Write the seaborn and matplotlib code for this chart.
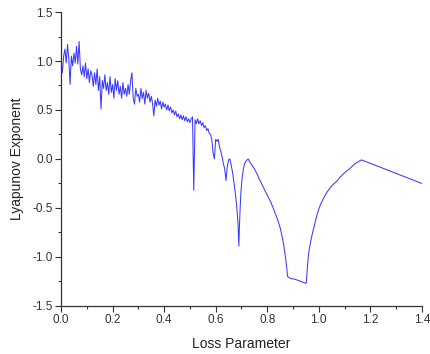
import numpy as np
import pandas as pd
import matplotlib
matplotlib.use("Agg")
import matplotlib.pyplot as plt
from matplotlib.ticker import MultipleLocator, FormatStrFormatter
import seaborn as sns

# ====== 数据：噪声段（等步长 0.005 采样）======
noisy_step = 0.005
noisy_y = [
    1.00, 0.88, 1.05, 1.12, 0.98, 1.17, 1.02, 0.76, 1.05, 0.95,
    1.08, 0.98, 1.15, 0.97, 1.20, 0.92, 0.86, 0.95, 0.84, 0.98,
    0.82, 0.92, 0.78, 0.90, 0.86, 0.74, 0.88, 0.76, 0.92, 0.70,
    0.84, 0.51, 0.80, 0.72, 0.86, 0.70, 0.78, 0.66, 0.84, 0.68,
    0.76, 0.62, 0.82, 0.70, 0.80, 0.66, 0.74, 0.62, 0.78, 0.66,
    0.72, 0.64, 0.76, 0.66, 0.80, 0.88, 0.62, 0.56, 0.72, 0.64,
    0.66, 0.58, 0.72, 0.62, 0.68, 0.56, 0.70, 0.62, 0.67, 0.58,
    0.64, 0.57, 0.44, 0.60, 0.54, 0.62, 0.55, 0.59, 0.51, 0.58,
    0.53, 0.56, 0.50, 0.55, 0.49, 0.53, 0.47, 0.50, 0.45, 0.49,
    0.43, 0.46, 0.41, 0.45, 0.40, 0.44, 0.39, 0.43, 0.38, 0.41,
    0.37, 0.41, 0.43, -0.32, 0.40, 0.36, 0.41, 0.36, 0.39, 0.34,
    0.37, 0.32, 0.34, 0.29, 0.31, 0.26, 0.25, 0.20, 0.06, 0.00,
    0.20, 0.18, 0.20, 0.12, 0.08, 0.02, -0.05, -0.10, -0.22, -0.08,
    -0.01, 0.00,
]

# ====== 数据：平滑段（不等距）======
smooth_x = [
    0.660, 0.665, 0.670, 0.675, 0.680, 0.684, 0.687, 0.690, 0.692, 0.695,
    0.698, 0.702, 0.707, 0.712, 0.718, 0.726, 0.735, 0.750, 0.760, 0.772,
    0.785, 0.800, 0.812, 0.823, 0.833, 0.843, 0.850, 0.856, 0.862, 0.867,
    0.871, 0.875, 0.879, 0.885, 0.890, 0.910, 0.930, 0.950, 0.952, 0.954,
    0.956, 0.959, 0.962, 0.966, 0.972, 0.978, 0.985, 0.991, 0.998, 1.006,
    1.015, 1.025, 1.037, 1.052, 1.069, 1.085, 1.100, 1.120, 1.140, 1.155,
    1.166, 1.400,
]
smooth_y = [
    -0.06, -0.13, -0.22, -0.32, -0.44, -0.56, -0.68, -0.89, -0.70, -0.50,
    -0.34, -0.21, -0.11, -0.05, -0.02, 0.00, -0.04, -0.10, -0.15, -0.22,
    -0.29, -0.37, -0.43, -0.50, -0.57, -0.64, -0.70, -0.77, -0.85, -0.93,
    -1.01, -1.09, -1.20, -1.21, -1.22, -1.23, -1.25, -1.27, -1.26, -1.18,
    -1.10, -1.01, -0.94, -0.88, -0.80, -0.73, -0.66, -0.59, -0.53, -0.47,
    -0.42, -0.37, -0.32, -0.27, -0.23, -0.18, -0.14, -0.10, -0.05, -0.025,
    -0.01, -0.25,
]

noisy_x = np.round(np.arange(len(noisy_y)) * noisy_step, 3)
df = pd.DataFrame({
    "loss": np.concatenate([noisy_x, smooth_x]),
    "lyap": np.concatenate([noisy_y, smooth_y]),
})

sns.set_theme(style="ticks")
plt.rcParams["font.family"] = ["Liberation Sans", "DejaVu Sans"]

fig = plt.figure(figsize=(4.3, 3.54), dpi=100)
ax = fig.add_axes([0.142, 0.136, 0.839, 0.830])

sns.lineplot(data=df, x="loss", y="lyap", ax=ax, sort=False, estimator=None,
             color="#3a3aff", linewidth=0.75)

ax.set_xlim(0, 1.4)
ax.set_ylim(-1.5, 1.5)
ax.xaxis.set_major_locator(MultipleLocator(0.2))
ax.xaxis.set_minor_locator(MultipleLocator(0.1))
ax.yaxis.set_major_locator(MultipleLocator(0.5))
ax.yaxis.set_minor_locator(MultipleLocator(0.25))
ax.xaxis.set_major_formatter(FormatStrFormatter("%.1f"))
ax.yaxis.set_major_formatter(FormatStrFormatter("%.1f"))
ax.tick_params(which="major", length=4, width=0.8, labelsize=8.5, colors="#333333", pad=2)
ax.tick_params(which="minor", length=2.5, width=0.8, colors="#333333")
for s in ["left", "bottom"]:
    ax.spines[s].set_color("#333333")
    ax.spines[s].set_linewidth(0.9)
sns.despine(ax=ax)

ax.set_xlabel("Loss Parameter", fontsize=10, labelpad=8, color="#222222")
ax.set_ylabel("Lyapunov Exponent", fontsize=10, labelpad=6, color="#222222")

fig.savefig("out.png", dpi=100)
